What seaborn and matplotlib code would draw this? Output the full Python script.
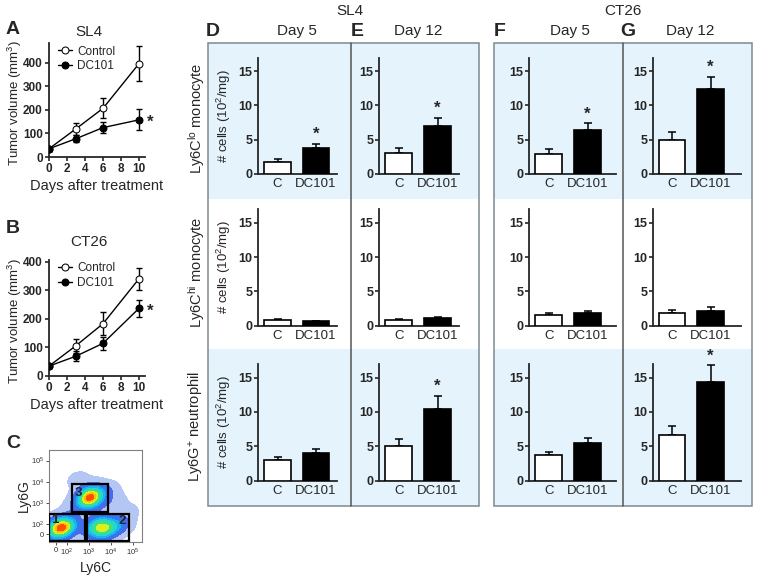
import matplotlib
matplotlib.use('Agg')
import matplotlib.pyplot as plt
from matplotlib.patches import Rectangle
from matplotlib.colors import LinearSegmentedColormap
import seaborn as sns
import pandas as pd
import numpy as np

sns.set_style('ticks')
plt.rcParams['font.family'] = ['Liberation Sans', 'DejaVu Sans']
plt.rcParams['mathtext.fontset'] = 'custom'
plt.rcParams['mathtext.rm'] = 'Liberation Sans'
plt.rcParams['mathtext.it'] = 'Liberation Sans:italic'
plt.rcParams['mathtext.bf'] = 'Liberation Sans:bold'

W, H = 765, 586

# tumor growth curves (A, B)
days = [0, 3, 6, 10]
sl4_ctrl = [35, 120, 207, 397]
sl4_ctrl_err = [8, 25, 43, 75]
sl4_dc = [35, 78, 125, 158]
sl4_dc_err = [8, 15, 22, 45]
ct26_ctrl = [33, 105, 182, 340]
ct26_ctrl_err = [8, 25, 40, 38]
ct26_dc = [33, 68, 113, 236]
ct26_dc_err = [8, 17, 22, 30]

# bar panels D-G: columns = SL4 d5, SL4 d12, CT26 d5, CT26 d12
groups = ['C', 'DC101']
lo_mean = [[1.8, 3.8], [3.1, 7.0], [2.9, 6.45], [5.0, 12.4]]
lo_err = [[0.35, 0.6], [0.7, 1.2], [0.7, 0.95], [1.1, 1.8]]
hi_mean = [[0.9, 0.65], [0.9, 1.1], [1.6, 1.8], [1.9, 2.2]]
hi_err = [[0.12, 0.1], [0.12, 0.15], [0.3, 0.4], [0.45, 0.5]]
neu_mean = [[3.0, 4.05], [5.1, 10.5], [3.7, 5.5], [6.6, 14.4]]
neu_err = [[0.5, 0.6], [0.95, 1.9], [0.4, 0.7], [1.3, 2.4]]
stars = [[True, True, True, True], [False, False, False, False], [False, True, False, True]]
row_names = ['Ly6C$^{\\mathrm{lo}}$ monocyte', 'Ly6C$^{\\mathrm{hi}}$ monocyte',
             'Ly6G$^{+}$ neutrophil']

# flow plot (C): rough population centres in display units, with weights
flow_x = [0.2, -0.1, 0.5, 0.15, 0.3, 0.7,
          2.1, 1.7, 2.5, 2.9, 2.0, 2.2,
          1.55, 1.25, 1.85, 1.5, 1.7, 2.3,
          3.2, 0.8, 2.6, 1.0]
flow_y = [0.3, 0.2, 0.35, 0.55, 0.05, 0.5,
          0.3, 0.3, 0.35, 0.4, 0.6, 0.05,
          1.75, 1.6, 1.9, 2.1, 1.45, 2.0,
          1.0, 1.2, 1.5, 2.6]
flow_w = [3, 1, 1.5, 1, 1, 0.7,
          2.2, 1.5, 1.5, 0.8, 1, 1,
          4, 1, 1, 0.8, 1, 0.5,
          0.3, 0.3, 0.4, 0.2]
flow_colors = ['#b4c6f4', '#4a6ae8', '#2a7cf0', '#1fb0f0', '#20d8d0',
               '#40e080', '#90ee40', '#d8f020', '#ffc000', '#ff5000']
flow_levels = [0.01, 0.1, 0.2, 0.32, 0.45, 0.6, 0.75, 0.87, 0.94, 0.985, 1.0]
flow_ticks = [0, 0.5, 1.5, 2.5, 3.5]
flow_ticklabels = ['0', '10$^2$', '10$^3$', '10$^4$', '10$^5$']


def px_axes(fig, left, top, right, bottom):
    return fig.add_axes([left / W, 1 - bottom / H, (right - left) / W, (bottom - top) / H])


def ftext(fig, x, y, s, **kw):
    fig.text(x / W, 1 - y / H, s, ha='center', va='center', **kw)


fig = plt.figure(figsize=(W / 100, H / 100), dpi=100)

# background boxes
blue = '#e4f3fc'
for x0, x1, xd in [(208, 479.3, 351), (494, 751.7, 622.7)]:
    for y0, y1 in [(43, 198.5), (349, 506)]:
        fig.add_artist(Rectangle((x0 / W, 1 - y1 / H), (x1 - x0) / W, (y1 - y0) / H,
                                 transform=fig.transFigure, facecolor=blue,
                                 edgecolor='none', zorder=-2))
    fig.add_artist(Rectangle((x0 / W, 1 - 506 / H), (x1 - x0) / W, (506 - 43) / H,
                             transform=fig.transFigure, facecolor='none',
                             edgecolor='#7d8a90', lw=1.1, zorder=-1))
    fig.add_artist(plt.Line2D([xd / W, xd / W], [1 - 43 / H, 1 - 506 / H],
                              transform=fig.transFigure, color='#555555', lw=1.1, zorder=-1))


def growth_panel(ax, ctrl, ctrl_err, dc, dc_err, ytop, yticks):
    sns.lineplot(x=days, y=ctrl, marker='o', color='black', markerfacecolor='white',
                 markeredgecolor='black', markersize=5, lw=1, label='Control', ax=ax, zorder=3)
    sns.lineplot(x=days, y=dc, marker='o', color='black', markerfacecolor='black',
                 markeredgecolor='black', markersize=5, lw=1, label='DC101', ax=ax, zorder=3)
    ax.errorbar(days, ctrl, yerr=ctrl_err, fmt='none', ecolor='black', capsize=2.5,
                elinewidth=1, capthick=1, zorder=2)
    ax.errorbar(days, dc, yerr=dc_err, fmt='none', ecolor='black', capsize=2.5,
                elinewidth=1, capthick=1, zorder=2)
    ax.annotate('*', (days[-1], dc[-1]), xytext=(8, -2), textcoords='offset points',
                ha='center', va='center', fontsize=12, fontweight='bold')
    ax.set_xlim(0, 10.67)
    ax.set_ylim(0, ytop)
    ax.set_xticks([0, 2, 4, 6, 8, 10])
    ax.set_yticks(yticks)
    ax.set_facecolor('none')
    sns.despine(ax=ax)
    for s in ['left', 'bottom']:
        ax.spines[s].set_linewidth(1.3)
    ax.tick_params(length=3, width=1.2, pad=1.5, labelsize=8.5)
    for t in ax.get_xticklabels() + ax.get_yticklabels():
        t.set_fontweight('bold')
    ax.set_xlabel('Days after treatment', fontsize=10.5, labelpad=3)
    ax.set_ylabel('Tumor volume (mm$^3$)', fontsize=9.5)
    ax.yaxis.set_label_coords(-0.265, 0.47)
    ax.legend(loc='upper left', bbox_to_anchor=(0.02, 1.04), frameon=False, fontsize=8.5,
              handlelength=1.2, handletextpad=0.4, labelspacing=0.2, borderaxespad=0.2)


axA = px_axes(fig, 49, 43, 145, 157)
growth_panel(axA, sl4_ctrl, sl4_ctrl_err, sl4_dc, sl4_dc_err, 485, [0, 100, 200, 300, 400])
axB = px_axes(fig, 49, 260, 145, 375.5)
growth_panel(axB, ct26_ctrl, ct26_ctrl_err, ct26_dc, ct26_dc_err, 406, [0, 100, 200, 300, 400])

ftext(fig, 13, 30, 'A', fontsize=14, fontweight='bold')
ftext(fig, 89, 32, 'SL4', fontsize=11)
ftext(fig, 13, 229, 'B', fontsize=14, fontweight='bold')
ftext(fig, 89, 242, 'CT26', fontsize=11)
ftext(fig, 13, 443, 'C', fontsize=14, fontweight='bold')

# flow plot
axC = px_axes(fig, 49, 450, 142, 541.7)
flow_cmap = LinearSegmentedColormap.from_list('flow', flow_colors, N=len(flow_colors))
sns.kdeplot(x=flow_x, y=flow_y, weights=flow_w, fill=True, cmap=flow_cmap,
            levels=flow_levels, bw_adjust=0.6, ax=axC)
gates = [(-0.3, -0.32, 1.63, 1.3), (1.44, -0.32, 1.89, 1.3), (0.75, 1.08, 1.63, 1.29)]
gate_labels = [(-0.05, 0.7, '1'), (3.0, 0.63, '2'), (1.04, 1.98, '3')]
for gx, gy, gw, gh in gates:
    axC.add_patch(Rectangle((gx, gy), gw, gh, fill=False, ec='black', lw=1.6, zorder=5))
for lx, ly, s in gate_labels:
    axC.text(lx, ly, s, ha='center', va='center', fontsize=9.5, fontweight='bold', zorder=6)
axC.set_xlim(-0.3, 3.92)
axC.set_ylim(-0.35, 4.0)
axC.set_xticks(flow_ticks)
axC.set_xticklabels(flow_ticklabels)
axC.set_yticks(flow_ticks)
axC.set_yticklabels(flow_ticklabels)
axC.tick_params(length=2, width=0.6, labelsize=5.5, pad=1.5, colors='#333333')
for s in axC.spines.values():
    s.set_color('#808080')
    s.set_linewidth(0.8)
axC.set_xlabel('Ly6C', fontsize=10, labelpad=2)
axC.set_ylabel('Ly6G', fontsize=10)
axC.yaxis.set_label_coords(-0.2, 0.5)

# bar panels
col_left = [258.3, 379.3, 529.3, 652.7]
col_right = [336.7, 459.3, 616, 740.7]
col_xmax = [1.54, 1.56, 1.73, 1.78]
row_zero = [174, 325.7, 480.5]
row_means = [lo_mean, hi_mean, neu_mean]
row_errs = [lo_err, hi_err, neu_err]
row_centres = [118, 272, 427]

for r in range(3):
    for c in range(4):
        ax = px_axes(fig, col_left[c], row_zero[r] - 116.5, col_right[c], row_zero[r])
        df = pd.DataFrame({'group': groups, 'cells': row_means[r][c]})
        sns.barplot(data=df, x='group', y='cells', hue='group', palette=['white', 'black'],
                    edgecolor='black', linewidth=1.2, width=0.69, legend=False, ax=ax,
                    zorder=3)
        ax.errorbar([0, 1], row_means[r][c], yerr=[[0, 0], row_errs[r][c]], fmt='none',
                    ecolor='black', capsize=3, elinewidth=1.1, capthick=1.1, zorder=2,
                    clip_on=False)
        if stars[r][c]:
            top = row_means[r][c][1] + row_errs[r][c][1]
            ax.text(1, top + 0.25, '*', ha='center', va='bottom', fontsize=12,
                    fontweight='bold')
        ax.set_xlim(-0.5, col_xmax[c])
        ax.set_ylim(0, 17)
        ax.set_yticks([0, 5, 10, 15])
        ax.set_facecolor('none')
        sns.despine(ax=ax)
        for s in ['left', 'bottom']:
            ax.spines[s].set_linewidth(1.3)
        ax.tick_params(axis='y', length=3, width=1.2, pad=1, labelsize=9)
        ax.tick_params(axis='x', length=0, pad=3, labelsize=9.5)
        for t in ax.get_yticklabels():
            t.set_fontweight('bold')
        ax.set_xlabel('')
        if c == 0:
            ax.set_ylabel('# cells (10$^2$/mg)', fontsize=9.5, labelpad=4)
        else:
            ax.set_ylabel('')
    ftext(fig, 197, row_centres[r], row_names[r], fontsize=10.5, rotation=90)

ftext(fig, 350, 11, 'SL4', fontsize=11)
ftext(fig, 623, 11, 'CT26', fontsize=11)
for x, s in [(213, 'D'), (357, 'E'), (500, 'F'), (628, 'G')]:
    ftext(fig, x, 31, s, fontsize=14, fontweight='bold')
for x, s in [(297, 'Day 5'), (418, 'Day 12'), (570, 'Day 5'), (690, 'Day 12')]:
    ftext(fig, x, 31, s, fontsize=11)

fig.savefig('out.png', dpi=100)
